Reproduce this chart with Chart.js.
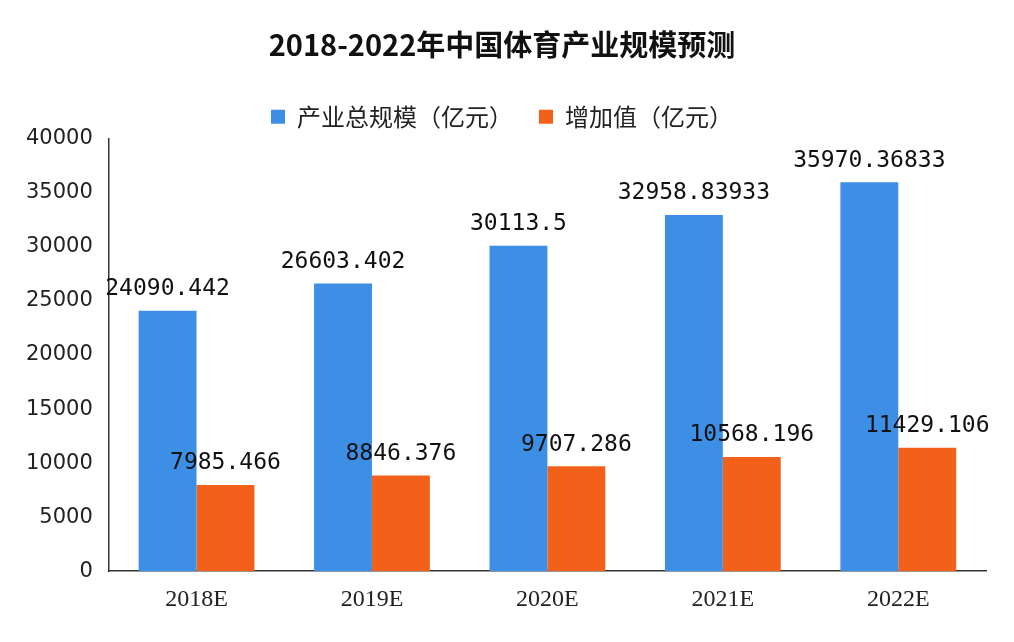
<!DOCTYPE html>
<html lang="zh">
<head>
<meta charset="UTF-8">
<title>2018-2022年中国体育产业规模预测</title>
<script src="https://cdn.jsdelivr.net/npm/chart.js"></script>
<style>
  html, body { margin: 0; padding: 0; background: #fff; }
  #wrap { width: 1014px; height: 642px; }
</style>
</head>
<body>
<div id="wrap"><canvas id="chart" width="1014" height="642"></canvas></div>
<script>
const years = ['2018E', '2019E', '2020E', '2021E', '2022E'];
const totalScale = [24090.442, 26603.402, 30113.5, 32958.83933, 35970.36833];
const totalLabels = ['24090.442', '26603.402', '30113.5', '32958.83933', '35970.36833'];
const addedValue = [7985.466, 8846.376, 9707.286, 10568.196, 11429.106];
const addedLabels = ['7985.466', '8846.376', '9707.286', '10568.196', '11429.106'];

// draw the numbers above each bar
const valueLabels = {
  id: 'valueLabels',
  afterDatasetsDraw(chart) {
    const ctx = chart.ctx;
    ctx.save();
    ctx.font = '23px "DejaVu Sans Mono", monospace';
    ctx.fillStyle = '#111';
    ctx.textAlign = 'center';
    ctx.textBaseline = 'bottom';
    const texts = [totalLabels, addedLabels];
    chart.data.datasets.forEach((ds, i) => {
      chart.getDatasetMeta(i).data.forEach((bar, j) => {
        ctx.fillText(texts[i][j], bar.x, bar.y - 10);
      });
    });
    ctx.restore();
  }
};

new Chart(document.getElementById('chart'), {
  type: 'bar',
  data: {
    labels: years,
    datasets: [
      { label: '产业总规模（亿元）', data: totalScale, backgroundColor: '#3d8fe6',
        categoryPercentage: 0.66, barPercentage: 1.0 },
      { label: '增加值（亿元）', data: addedValue, backgroundColor: '#f2601a',
        categoryPercentage: 0.66, barPercentage: 1.0 }
    ]
  },
  options: {
    responsive: false,
    animation: false,
    layout: { padding: { left: 18, right: 28, top: 14, bottom: 22 } },
    plugins: {
      title: {
        display: true,
        text: '2018-2022年中国体育产业规模预测',
        color: '#111',
        font: { family: '"Noto Sans CJK SC", serif', size: 29, weight: 'bold' },
        padding: { top: 14, bottom: 16 }
      },
      legend: {
        labels: {
          color: '#222',
          font: { family: '"Noto Sans CJK SC", sans-serif', size: 24 },
          boxWidth: 14, boxHeight: 14, padding: 26
        }
      },
      tooltip: { enabled: false }
    },
    scales: {
      x: {
        grid: { display: false },
        border: { color: '#333', width: 1.5 },
        ticks: { color: '#222', font: { family: '"Liberation Serif", serif', size: 24 }, padding: 6 }
      },
      y: {
        min: 0, max: 40000,
        grid: { display: false },
        border: { color: '#333', width: 1.5 },
        ticks: { stepSize: 5000, color: '#222', font: { family: '"DejaVu Sans", sans-serif', size: 21 }, padding: 8,
          callback: v => String(v) }
      }
    }
  },
  plugins: [valueLabels]
});
</script>
</body>
</html>
